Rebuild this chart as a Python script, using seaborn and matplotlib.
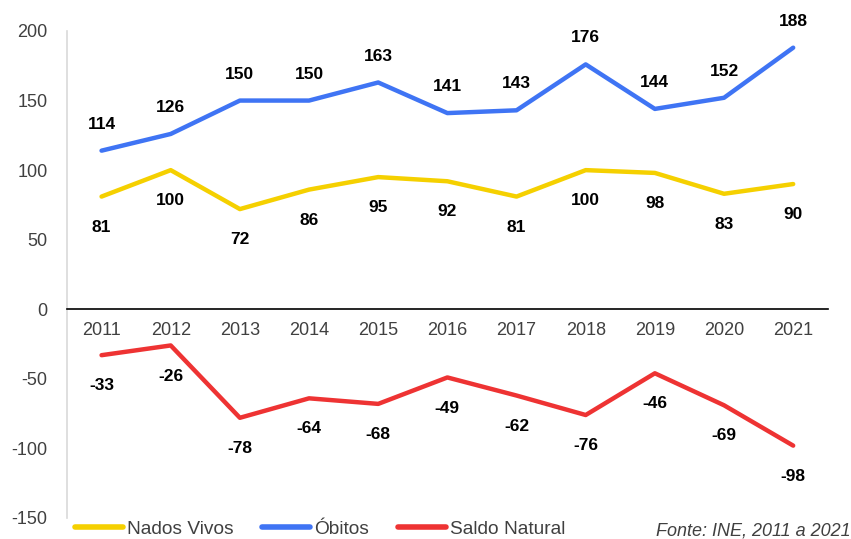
import pandas as pd
import seaborn as sns
import matplotlib.pyplot as plt

# Data (INE, 2011 a 2021)
anos = ['2011', '2012', '2013', '2014', '2015', '2016', '2017', '2018', '2019', '2020', '2021']
nados_vivos = [81, 100, 72, 86, 95, 92, 81, 100, 98, 83, 90]
obitos = [114, 126, 150, 150, 163, 141, 143, 176, 144, 152, 188]
saldo_natural = [-33, -26, -78, -64, -68, -49, -62, -76, -46, -69, -98]

series = {'Nados Vivos': nados_vivos, 'Óbitos': obitos, 'Saldo Natural': saldo_natural}
cores = {'Nados Vivos': '#F5D000', 'Óbitos': '#3F74F4', 'Saldo Natural': '#EE3333'}

df = pd.DataFrame([(a, nome, v) for nome, vals in series.items() for a, v in zip(anos, vals)],
                  columns=['ano', 'serie', 'valor'])

sns.set_theme(style="white")
plt.rcParams['font.family'] = ['Liberation Sans', 'DejaVu Sans']
plt.rcParams['axes.unicode_minus'] = False

fig = plt.figure(figsize=(8.51, 5.39), dpi=100)
ax = fig.add_axes([0.0787, 0.039, 0.894, 0.9035])

sns.lineplot(data=df, x='ano', y='valor', hue='serie', palette=cores, linewidth=3.2,
             ax=ax, legend=False, sort=False)

# Data labels
offsets = {'Nados Vivos': -22, 'Óbitos': 19, 'Saldo Natural': -22}
for nome, vals in series.items():
    for i, v in enumerate(vals):
        ax.annotate(str(v), (i, v), xytext=(0, offsets[nome]), textcoords='offset points',
                    ha='center', va='center', fontsize=12.5, fontweight='bold', color='black')

ax.set_xlim(-0.5, len(anos) - 0.5)
ax.set_ylim(-150, 200)
ax.set_yticks(range(-150, 201, 50))
ax.set_xlabel('')
ax.set_ylabel('')

ax.spines['top'].set_visible(False)
ax.spines['right'].set_visible(False)
ax.spines['left'].set_color('#D9D9D9')
ax.spines['left'].set_linewidth(1.2)
ax.spines['bottom'].set_position(('data', 0))
ax.spines['bottom'].set_color('black')
ax.spines['bottom'].set_linewidth(1.2)
ax.tick_params(axis='both', length=0, labelsize=13, labelcolor='#404040')
ax.tick_params(axis='x', pad=9)
ax.tick_params(axis='y', pad=14)

# Legend
handles = [plt.Line2D([0], [0], color=cores[n], linewidth=4, solid_capstyle='round') for n in series]
fig.legend(handles, list(series.keys()), loc='center left', bbox_to_anchor=(0.088, 0.018),
           ncol=3, frameon=False, fontsize=13.8, handlelength=2.5, columnspacing=1.5,
           handletextpad=0.22, borderpad=0, borderaxespad=0, labelcolor='#404040')

fig.text(0.999, 0.006, 'Fonte: INE, 2011 a 2021', ha='right', va='baseline', fontsize=13,
         style='italic', color='#404040')

fig.savefig('out.png', dpi=100)
